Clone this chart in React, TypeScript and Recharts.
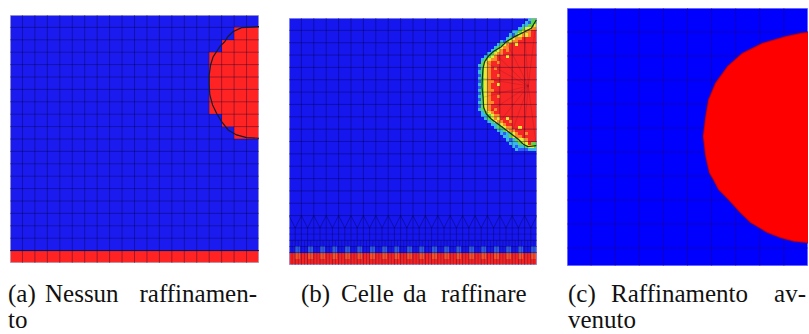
import React from "react";
import { ScatterChart, Scatter, XAxis, YAxis, ReferenceArea, ReferenceLine } from "recharts";

// coarse mesh: 20 x 20 cells, y counted from the top
const N = 20;
const MESH = Array.from({ length: N + 1 }, (_, i) => i);

// (a) first red column of every row (20 = none)
const redFromA = [20, 18, 17, 16, 16, 16, 16, 16, 17, 18, 20, 20, 20, 20, 20, 20, 20, 20, 20, 0];

// (a) interface line
const contourA = [
  { x: 20, y: 0.94 }, { x: 18.6, y: 1.02 }, { x: 17.9, y: 1.35 }, { x: 17.5, y: 1.75 },
  { x: 17.25, y: 2.15 }, { x: 16.85, y: 2.55 }, { x: 16.59, y: 2.96 }, { x: 16.32, y: 3.36 },
  { x: 16.11, y: 4.03 }, { x: 16.0, y: 4.83 }, { x: 16.0, y: 5.64 }, { x: 16.05, y: 6.45 },
  { x: 16.27, y: 7.25 }, { x: 16.59, y: 7.92 }, { x: 17.0, y: 8.6 }, { x: 17.52, y: 9.27 },
  { x: 18.2, y: 9.67 }, { x: 19.0, y: 9.89 }, { x: 20, y: 9.94 },
];

// (b) interface line
const contourB = [
  { x: 19.94, y: 0.16 }, { x: 19.54, y: 0.83 }, { x: 19.0, y: 1.11 }, { x: 18.2, y: 1.51 },
  { x: 17.52, y: 1.92 }, { x: 17.12, y: 2.32 }, { x: 16.45, y: 2.73 }, { x: 16.05, y: 3.13 },
  { x: 15.78, y: 3.54 }, { x: 15.65, y: 4.07 }, { x: 15.59, y: 4.88 }, { x: 15.56, y: 5.56 },
  { x: 15.65, y: 6.42 }, { x: 15.7, y: 7.23 }, { x: 15.91, y: 7.77 }, { x: 16.31, y: 8.18 },
  { x: 16.85, y: 8.58 }, { x: 17.4, y: 8.99 }, { x: 17.93, y: 9.39 }, { x: 18.47, y: 9.8 },
  { x: 18.87, y: 10.2 }, { x: 19.27, y: 10.42 }, { x: 19.94, y: 10.34 },
];

// (b) refined cells, quarter units: [row, first col, colours]; red runs on to the wall
const bandB: [number, number, string][] = [
  [0, 77, "cgg"], [1, 76, "cbgg"], [2, 75, "ccggy"], [3, 74, "cgyyoo"],
  [4, 72, "ccgyoor"], [5, 71, "cbgyoyo"], [6, 70, "cgyoor"], [7, 68, "cbgyoo"],
  [8, 67, "cgyorry"], [9, 66, "cgyoo"], [10, 65, "cgyoro"], [11, 64, "cgyoo"],
  [12, 63, "cgyorrry"], [13, 62, "cgyoo"], [14, 62, "gyorro"], [15, 61, "cgyo"],
  [16, 61, "bgyoro"], [17, 61, "cgyo"], [18, 61, "bgyorro"], [19, 61, "cgyo"],
  [20, 61, "bgyoo"], [21, 61, "cgyorry"], [22, 61, "bgyo"], [23, 61, "cgyoo"],
  [24, 61, "bgyo"], [25, 61, "cgyorro"], [26, 61, "bgyo"], [27, 61, "cgyoo"],
  [28, 61, "bgyo"], [29, 61, "cgyoro"], [30, 62, "cgyo"], [31, 62, "ccgyoo"],
  [32, 63, "cgyoyrry"], [33, 64, "cgyoorro"], [34, 65, "ccgyor"], [35, 66, "cggyoorry"],
  [36, 67, "ccgyoo"], [37, 68, "cbcgyorro"], [38, 69, "ccgyoo"], [39, 70, "cbcgyyo"],
  [40, 71, "cccgyyrgg"], [41, 72, "cbccgyyg"], [42, 73, "cbbbccc"],
];

// (b) lighter cells just above the red bottom row
const spotsB = [0.5, 1.5, 2.5, 3.5, 4.5, 5.5, 6.5, 7.5, 8.5, 9.5, 10.5, 11.5, 12.5, 13.5, 14.5, 15.5, 16.5, 17.5, 18.5, 19.5];

// (c) zoom on the drop (x 10..20, y 0..10.75)
const dropC = [
  { x: 20, y: 1.0 }, { x: 19.69, y: 1.04 }, { x: 19.06, y: 1.18 }, { x: 18.1, y: 1.46 },
  { x: 17.27, y: 1.88 }, { x: 16.65, y: 2.43 }, { x: 16.15, y: 3.13 }, { x: 15.86, y: 3.82 },
  { x: 15.74, y: 4.52 }, { x: 15.64, y: 5.35 }, { x: 15.74, y: 6.18 }, { x: 15.9, y: 6.88 },
  { x: 16.06, y: 7.15 }, { x: 16.28, y: 7.57 }, { x: 16.69, y: 7.99 }, { x: 17.19, y: 8.54 },
  { x: 17.61, y: 8.95 }, { x: 18.3, y: 9.36 }, { x: 18.86, y: 9.58 }, { x: 19.4, y: 9.73 },
  { x: 19.97, y: 9.79 }, { x: 20, y: 9.79 },
];
// (c) centre of the fan of triangles inside the drop
const fanC = { x: 17.9, y: 5.9 };

// captions: [text, x, baseline, anchor]
const captions: [string, number, number, "start" | "end"][] = [
  ["(a)", 8, 302, "start"], ["Nessun", 45, 302, "start"], ["raffinamen-", 257, 302, "end"], ["to", 8, 328, "start"],
  ["(b)", 301, 302, "start"], ["Celle", 341, 302, "start"], ["da", 403, 302, "start"], ["raffinare", 441, 302, "start"],
  ["(c)", 568, 302, "start"], ["Raffinamento", 611, 302, "start"], ["av-", 806, 302, "end"], ["venuto", 568, 328, "start"],
];

const PAL: Record<string, string> = {
  c: "#36b8ee",
  g: "#5ad84a",
  y: "#e6ec34",
  o: "#ff8a2a",
  b: "#2a5ef2",
  r: "#f82626",
};

type Cell = { x1: number; x2: number; y1: number; y2: number; fill: string };

const cellsA: Cell[] = redFromA
  .map((c, row) => ({ x1: c, x2: N, y1: row, y2: row + 1, fill: "#ff2323" }))
  .filter((c) => c.x1 < N);

const cellsB: Cell[] = [];
bandB.forEach(([q, x0, s]) => {
  s.split("").forEach((ch, i) =>
    cellsB.push({ x1: (x0 + i) / 4, x2: (x0 + i + 1) / 4, y1: q / 4, y2: (q + 1) / 4, fill: PAL[ch] })
  );
  const end = x0 + s.length;
  if (end < 80) cellsB.push({ x1: end / 4, x2: N, y1: q / 4, y2: (q + 1) / 4, fill: PAL.r });
});
cellsB.push({ x1: 0, x2: N, y1: 19, y2: 20, fill: "#f42424" });
spotsB.forEach((x) => {
  cellsB.push({ x1: x, x2: x + 0.4, y1: 18.5, y2: 19, fill: "#2e5ae8" });
  cellsB.push({ x1: x, x2: x + 0.4, y1: 19, y2: 19.5, fill: "#f8502a" });
});

const area = (c: Cell, k: string) => (
  <ReferenceArea
    key={k}
    x1={c.x1}
    x2={c.x2}
    y1={c.y1}
    y2={c.y2}
    fill={c.fill}
    fillOpacity={1}
    stroke="none"
    shapeRendering="crispEdges"
  />
);

const hidden = () => <g />;

function Panel({ left, top, width, height, xDomain, yDomain, children }: any) {
  return (
    <div style={{ position: "absolute", left, top, width, height }}>
      <ScatterChart width={width} height={height} margin={{ top: 0, right: 0, bottom: 0, left: 0 }}>
        <XAxis type="number" dataKey="x" domain={xDomain} hide allowDataOverflow />
        <YAxis type="number" dataKey="y" domain={yDomain} reversed hide allowDataOverflow />
        {children}
      </ScatterChart>
    </div>
  );
}

const LINE = "rgba(0,0,50,0.36)";
const LINE_C = "rgba(40,0,90,0.38)";

const zigzag = MESH.slice(0, N).flatMap((i) => [
  { x: i, y: 16 },
  { x: i + 0.5, y: 17 },
]).concat([{ x: N, y: 16 }]);

export default function App() {
  return (
    <div style={{ position: "fixed", left: 0, top: 0, width: 809, height: 334, background: "#fff", overflow: "hidden" }}>
      {/* (a) no refinement */}
      <Panel left={10} top={15} width={249} height={248} xDomain={[0, N]} yDomain={[0, N]}>
        {area({ x1: 0, x2: N, y1: 0, y2: N, fill: "#1b1bf0" }, "bg")}
        {cellsA.map((c, i) => area(c, "a" + i))}
        {MESH.slice(1, N).map((v) => (
          <ReferenceLine key={"ax" + v} x={v} stroke={LINE} />
        ))}
        {MESH.slice(1, N).map((v) => (
          <ReferenceLine key={"ay" + v} y={v} stroke={v === 19 ? "rgba(0,0,40,0.8)" : LINE} />
        ))}
        <ReferenceArea x1={0} x2={N} y1={0} y2={N} fill="none" stroke="#b4b4c8" strokeWidth={1.5} />
        <Scatter data={contourA} shape={hidden} line={{ stroke: "#1a1a2a", strokeWidth: 1.2 }} isAnimationActive={false} />
      </Panel>

      {/* (b) cells to refine */}
      <Panel left={289} top={18} width={248} height={247} xDomain={[0, N]} yDomain={[0, N]}>
        {area({ x1: 0, x2: N, y1: 0, y2: N, fill: "#1616ef" }, "bg")}
        {cellsB.map((c, i) => area(c, "b" + i))}
        {MESH.slice(1, N).map((v) => (
          <ReferenceLine key={"bx" + v} x={v} stroke={LINE} />
        ))}
        {MESH.slice(1, N).map((v) => (
          <ReferenceLine key={"by" + v} y={v} stroke={LINE} />
        ))}
        {MESH.slice(0, N).map((v) => (
          <ReferenceLine key={"bh" + v} segment={[{ x: v + 0.5, y: 17 }, { x: v + 0.5, y: 20 }]} stroke={LINE} />
        ))}
        {MESH.slice(0, N).flatMap((v) => [0.25, 0.75].map((d) => (
          <ReferenceLine key={"bq" + v + d} segment={[{ x: v + d, y: 18 }, { x: v + d, y: 20 }]} stroke="rgba(0,0,50,0.25)" />
        )))}
        {contourB.filter((_, i) => i % 2 === 0).map((p, i) => (
          <ReferenceLine key={"bf" + i} segment={[{ x: 19.3, y: 5.5 }, p]} stroke="rgba(60,0,40,0.14)" />
        ))}
        <ReferenceLine y={18.5} stroke={LINE} />
        <ReferenceLine y={17.5} stroke="rgba(0,0,50,0.25)" />
        <Scatter data={zigzag} shape={hidden} line={{ stroke: "rgba(0,0,50,0.35)", strokeWidth: 1 }} isAnimationActive={false} />
        <ReferenceArea x1={0} x2={N} y1={0} y2={N} fill="none" stroke="#9aa0f0" strokeWidth={1.5} />
        <Scatter data={contourB} shape={hidden} line={{ stroke: "#10300f", strokeWidth: 1.2 }} isAnimationActive={false} />
      </Panel>

      {/* (c) refinement done */}
      <Panel left={567} top={8} width={241} height={258} xDomain={[10, N]} yDomain={[0, 10.75]}>
        {area({ x1: 10, x2: N, y1: 0, y2: 10.75, fill: "#0000ff" }, "bg")}
        <Scatter data={dropC} shape={hidden} line={{ stroke: "rgba(110,0,40,0.35)", strokeWidth: 2, fill: "#ff0000" }} isAnimationActive={false} />
        {MESH.slice(11, N).map((v) => (
          <ReferenceLine key={"cx" + v} x={v} stroke={LINE_C} />
        ))}
        {MESH.slice(1, 11).map((v) => (
          <ReferenceLine key={"cy" + v} y={v} stroke={LINE_C} />
        ))}
        {dropC.slice(1, -1).filter((_, i) => i % 2 === 0).map((p, i) => (
          <ReferenceLine key={"cf" + i} segment={[fanC, p]} stroke="rgba(60,0,60,0.18)" />
        ))}
        <ReferenceArea x1={10} x2={N} y1={0} y2={10.75} fill="none" stroke="#8a8aff" strokeWidth={1.5} />
      </Panel>

      <svg width={809} height={334} style={{ position: "absolute", left: 0, top: 0, pointerEvents: "none" }}>
        {captions.map(([t, x, y, anchor]) => (
          <text key={t} x={x} y={y} textAnchor={anchor} fontFamily="Liberation Serif" fontSize={25} fill="#111">
            {t}
          </text>
        ))}
      </svg>
    </div>
  );
}
